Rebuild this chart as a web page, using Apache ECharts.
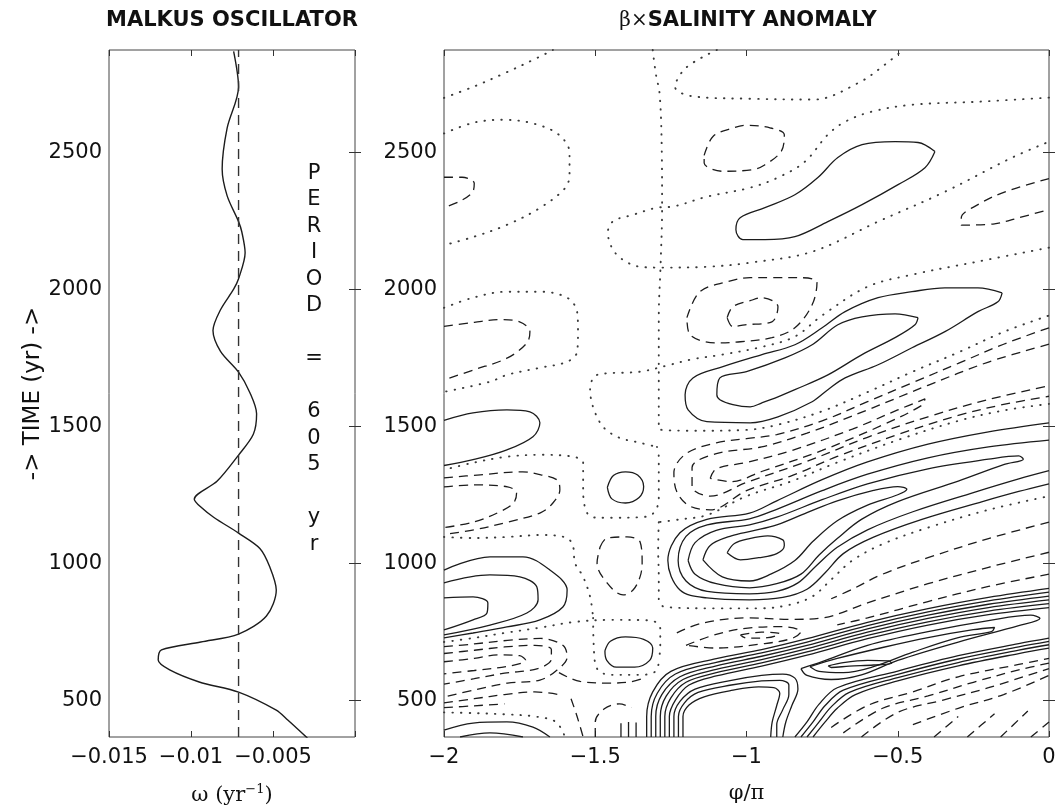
<!DOCTYPE html>
<html>
<head>
<meta charset="utf-8">
<title>Malkus oscillator / salinity anomaly</title>
<script src="https://cdn.jsdelivr.net/npm/echarts@6/dist/echarts.min.js"></script>
<style>
  html, body { margin: 0; background: #fff; }
  #chart { width: 1060px; height: 811px; }
</style>
</head>
<body>
<div id="chart"></div>
<script>
// ---- left panel: omega(t) of the Malkus oscillator ----
const omegaTime = [361,427,463,529,566,610,646,683,712,741,807,902,987,1054,1110,1167,1205,1234,1300,1395,1471,1546,1622,1698,1774,1850,1926,2001,2039,2134,2210,2248,2343,2440,2589,2740,2870];
const omegaValue = [-0.0029,-0.0041,-0.0048,-0.0071,-0.0095,-0.0113,-0.0120,-0.0118,-0.0094,-0.0071,-0.0054,-0.0048,-0.0052,-0.0058,-0.0071,-0.0086,-0.0094,-0.0098,-0.0084,-0.0071,-0.0062,-0.0060,-0.0064,-0.0071,-0.0082,-0.00866,-0.0082,-0.0074,-0.0071,-0.0067,-0.0069,-0.0071,-0.0078,-0.0081,-0.0078,-0.0071,-0.0074];
const omegaMean = -0.0071;
const periodText = ['P','E','R','I','O','D','','=','','6','0','5','','y','r'];

// ticks
const timeRange = [365, 2875];
const timeTicks = [500, 1000, 1500, 2000, 2500];
const omegaTicks = [-0.015, -0.01, -0.005, 0];
const omegaLabels = [-0.015, -0.01, -0.005];
const phiTicks = [-2, -1.5, -1, -0.5, 0];

// ---- right panel: contours of beta x salinity anomaly, points are [phi/pi, year] ----
// positive (solid)
const posUpperBlob = [[-0.377,2504],[-0.433,2537],[-0.509,2540],[-0.618,2529],[-0.698,2482],[-0.764,2409],[-0.84,2346],[-0.939,2299],[-1.021,2262],[-1.035,2218],[-1.012,2182],[-0.939,2182],[-0.84,2193],[-0.731,2248],[-0.618,2310],[-0.499,2383],[-0.41,2445],[-0.377,2504]];
const posMidOuter = [[-0.155,1988],[-0.235,2006],[-0.344,2006],[-0.453,1992],[-0.565,1970],[-0.674,1919],[-0.75,1860],[-0.84,1798],[-0.949,1762],[-1.078,1718],[-1.177,1677],[-1.203,1615],[-1.193,1560],[-1.131,1517],[-0.988,1513],[-0.896,1535],[-0.783,1590],[-0.731,1634],[-0.674,1677],[-0.565,1725],[-0.453,1787],[-0.344,1846],[-0.235,1919],[-0.169,1955],[-0.155,1988]];
const posMidInner = [[-0.433,1897],[-0.509,1911],[-0.618,1900],[-0.698,1871],[-0.783,1798],[-0.873,1750],[-1.0,1700],[-1.088,1677],[-1.098,1615],[-1.088,1597],[-1.045,1579],[-0.988,1571],[-0.949,1586],[-0.896,1608],[-0.84,1634],[-0.731,1688],[-0.618,1762],[-0.509,1824],[-0.443,1871],[-0.433,1897]];
const posLeftTop = [[-2,1522],[-1.904,1549],[-1.792,1560],[-1.716,1553],[-1.683,1513],[-1.706,1462],[-1.792,1414],[-1.904,1378],[-2,1357]];
const posLeftOuter = [[-2,975],[-1.848,1023],[-1.739,1023],[-1.65,975],[-1.593,902],[-1.607,840],[-1.683,793],[-1.792,767],[-1.904,745],[-2,727]];
const posLeftMid = [[-2,928],[-1.848,957],[-1.749,950],[-1.693,913],[-1.689,866],[-1.726,818],[-1.848,774],[-2,738]];
const posLeftInner = [[-2,873],[-1.904,877],[-1.855,855],[-1.858,818],[-1.904,793],[-2,756]];
const posRingUpper = [[-1.46,1277],[-1.44,1320],[-1.40,1334],[-1.36,1322],[-1.34,1280],[-1.355,1240],[-1.40,1220],[-1.445,1235],[-1.46,1277]];
const posRingLower = [[-1.468,680],[-1.45,715],[-1.40,731],[-1.34,722],[-1.31,690],[-1.32,645],[-1.37,620],[-1.43,620],[-1.462,645],[-1.468,680]];
const posCorner = [[-2,390],[-1.904,416],[-1.792,420],[-1.706,401],[-1.65,365]];
const posCornerIn = [[-1.947,365],[-1.848,380],[-1.739,365]];
const posStub1 = [[-1.415,365],[-1.415,415]];
const posStub2 = [[-1.39,365],[-1.39,420]];
const posStub3 = [[-1.365,365],[-1.365,418]];
const posCore1 = [[-1.064,1038],[-1.04,1072],[-0.99,1090],[-0.93,1100],[-0.88,1085],[-0.875,1065],[-0.9,1035],[-0.96,1020],[-1.02,1012],[-1.064,1038]];
const posCore2 = [[-1.144,1012],[-1.12,1065],[-1.05,1100],[-0.98,1118],[-0.9,1140],[-0.8,1185],[-0.7,1228],[-0.58,1266],[-0.5,1280],[-0.47,1270],[-0.5,1250],[-0.6,1212],[-0.7,1155],[-0.78,1080],[-0.84,1010],[-0.92,960],[-0.99,935],[-1.08,950],[-1.144,1012]];
const posCore3 = [[-1.193,1010],[-1.17,1075],[-1.1,1120],[-0.99,1140],[-0.9,1168],[-0.75,1232],[-0.6,1290],[-0.4,1345],[-0.2,1380],[-0.1,1392],[-0.085,1380],[-0.15,1360],[-0.3,1300],[-0.5,1225],[-0.62,1160],[-0.7,1090],[-0.76,1030],[-0.82,960],[-0.9,925],[-0.99,910],[-1.1,925],[-1.17,960],[-1.193,1010]];
const posCore4 = [[0,1450],[-0.2,1425],[-0.4,1385],[-0.6,1325],[-0.75,1265],[-0.9,1197],[-0.99,1162],[-1.13,1140],[-1.2,1098],[-1.226,1010],[-1.2,935],[-1.13,897],[-0.99,888],[-0.9,897],[-0.83,928],[-0.77,990],[-0.7,1058],[-0.6,1122],[-0.45,1188],[-0.25,1258],[-0.1,1308],[0,1338]];
const posCore5 = [[0,1513],[-0.2,1480],[-0.4,1435],[-0.6,1370],[-0.75,1305],[-0.9,1228],[-0.99,1183],[-1.131,1160],[-1.22,1111],[-1.26,1010],[-1.22,902],[-1.131,873],[-0.99,866],[-0.88,875],[-0.8,905],[-0.74,965],[-0.68,1035],[-0.58,1095],[-0.42,1160],[-0.22,1225],[-0.1,1262],[0,1290]];
const posBandAm = [[-1.33,365],[-1.33,440],[-1.31,530],[-1.25,605],[-1.1,651],[-0.95,684],[-0.8,724],[-0.6,784],[-0.4,834],[-0.2,875],[0,908]];
const posBandA0 = [[-1.315,365],[-1.315,440],[-1.295,525],[-1.235,595],[-1.1,638],[-0.95,672],[-0.8,712],[-0.6,772],[-0.4,822],[-0.2,862],[0,894]];
const posBandA1 = [[-1.30,365],[-1.30,440],[-1.28,520],[-1.22,585],[-1.1,625],[-0.95,660],[-0.8,700],[-0.6,760],[-0.4,810],[-0.2,850],[0,880]];
const posBandA2 = [[-1.285,365],[-1.285,440],[-1.265,515],[-1.21,575],[-1.1,612],[-0.95,648],[-0.8,688],[-0.6,748],[-0.4,798],[-0.2,838],[0,866]];
const posBandA3 = [[-1.27,365],[-1.27,440],[-1.25,508],[-1.2,565],[-1.1,600],[-0.95,636],[-0.8,676],[-0.6,736],[-0.4,786],[-0.2,825],[0,852]];
const posBandA4 = [[-1.255,365],[-1.255,440],[-1.235,500],[-1.19,555],[-1.1,588],[-0.95,624],[-0.8,664],[-0.6,724],[-0.4,774],[-0.2,812],[0,838]];
const posArch5 = [[-1.24,365],[-1.24,440],[-1.22,495],[-1.17,540],[-1.05,572],[-0.95,590],[-0.88,595],[-0.84,580],[-0.83,540],[-0.85,480],[-0.87,420],[-0.88,365]];
const posArch6 = [[-1.225,365],[-1.225,440],[-1.205,490],[-1.16,528],[-1.05,555],[-0.95,570],[-0.89,572],[-0.86,555],[-0.86,520],[-0.88,465],[-0.9,410],[-0.9,365]];
const posArch7 = [[-1.21,365],[-1.21,440],[-1.19,482],[-1.14,512],[-1.05,535],[-0.96,548],[-0.91,545],[-0.89,525],[-0.9,480],[-0.915,420],[-0.92,365]];
const posBandB1 = [[-0.78,365],[-0.74,420],[-0.7,470],[-0.64,520],[-0.5,570],[-0.3,625],[-0.1,670],[0,690]];
const posBandB2 = [[-0.80,365],[-0.76,420],[-0.72,475],[-0.66,528],[-0.5,582],[-0.3,637],[-0.1,682],[0,702]];
const posBandB3 = [[-0.82,365],[-0.78,420],[-0.74,480],[-0.68,536],[-0.5,594],[-0.3,650],[-0.1,694],[0,714]];
const posBandB4 = [[-0.84,365],[-0.80,420],[-0.76,485],[-0.70,545],[-0.5,606],[-0.3,662],[-0.1,706],[0,726]];
const posLobeC = [[-0.82,615],[-0.75,640],[-0.6,700],[-0.4,750],[-0.2,790],[-0.06,810],[-0.03,798],[-0.1,772],[-0.3,712],[-0.5,645],[-0.62,592],[-0.72,575],[-0.8,590],[-0.82,615]];
const posLobeB = [[-0.79,622],[-0.7,652],[-0.55,692],[-0.4,728],[-0.25,757],[-0.18,765],[-0.19,750],[-0.3,728],[-0.45,675],[-0.58,622],[-0.68,600],[-0.76,605],[-0.79,622]];
const posLobeA = [[-0.73,625],[-0.68,637],[-0.6,645],[-0.53,643],[-0.52,634],[-0.58,628],[-0.66,624],[-0.72,619],[-0.73,625]];

// negative (dashed)
const negTopOval = [[-1.14,2490],[-1.11,2560],[-1.045,2590],[-1.0,2600],[-0.92,2590],[-0.875,2565],[-0.885,2505],[-0.94,2455],[-0.98,2438],[-1.08,2432],[-1.14,2462],[-1.14,2490]];
const negMidOuter = [[-1.197,1897],[-1.154,1992],[-1.064,2028],[-0.988,2043],[-0.916,2043],[-0.817,2043],[-0.767,2025],[-0.783,1944],[-0.84,1860],[-0.916,1824],[-1.02,1809],[-1.1,1805],[-1.187,1835],[-1.197,1897]];
const negMidInner = [[-1.064,1897],[-1.045,1937],[-0.988,1959],[-0.949,1970],[-0.896,1937],[-0.916,1882],[-1.005,1871],[-1.045,1864],[-1.064,1897]];
const negLeftHook = [[-2,2410],[-1.94,2410],[-1.9,2388],[-1.905,2357],[-1.95,2321],[-2,2300]];
const negLeftLoop = [[-2,1865],[-1.9,1880],[-1.815,1890],[-1.75,1882],[-1.716,1846],[-1.726,1805],[-1.79,1750],[-1.9,1707],[-2,1670]];
const negRightHook = [[0,2405],[-0.145,2357],[-0.235,2310],[-0.29,2262],[-0.29,2235],[-0.18,2240],[-0.1,2262],[0,2292]];
const negStreakOuter = [[0,1860],[-0.15,1800],[-0.3,1730],[-0.45,1660],[-0.6,1590],[-0.75,1520],[-0.9,1470],[-1.0,1455],[-1.1,1440],[-1.2,1400],[-1.24,1330],[-1.23,1260],[-1.19,1210],[-1.12,1195],[-1.0,1265],[-0.85,1320],[-0.7,1390],[-0.5,1470],[-0.3,1540],[-0.15,1580],[0,1610]];
const negStreakMid = [[0,1800],[-0.2,1735],[-0.4,1650],[-0.6,1560],[-0.8,1475],[-0.95,1425],[-1.1,1400],[-1.18,1350],[-1.18,1280],[-1.12,1245],[-1.0,1295],[-0.8,1372],[-0.6,1460],[-0.4,1535],[-0.2,1598],[0,1648]];
const negStreakInner = [[-1.12,1310],[-1.1,1345],[-1.0,1368],[-0.85,1412],[-0.65,1490],[-0.5,1560],[-0.41,1600],[-0.42,1577],[-0.55,1505],[-0.75,1412],[-0.95,1335],[-1.05,1298],[-1.12,1310]];
const negOval = [[-1.484,1059],[-1.461,1092],[-1.395,1096],[-1.352,1078],[-1.345,1001],[-1.352,950],[-1.375,902],[-1.408,884],[-1.461,928],[-1.494,1001],[-1.484,1059]];
const negLeftOuter = [[-2,1312],[-1.88,1323],[-1.74,1334],[-1.68,1323],[-1.626,1304],[-1.617,1268],[-1.64,1220],[-1.68,1185],[-1.79,1150],[-1.9,1122],[-2,1105]];
const negLeftInner = [[-2,1279],[-1.9,1286],[-1.79,1279],[-1.76,1257],[-1.77,1220],[-1.815,1188],[-1.9,1151],[-2,1130]];
const negLowOuter = [[-2,695],[-1.9,705],[-1.79,718],[-1.68,725],[-1.607,700],[-1.593,657],[-1.626,610],[-1.683,573],[-1.79,562],[-1.9,537],[-2,511]];
const negLowMid = [[-2,670],[-1.9,682],[-1.8,694],[-1.7,700],[-1.645,685],[-1.645,650],[-1.69,615],[-1.8,598],[-1.9,578],[-2,558]];
const negLowInner = [[-2,640],[-1.9,652],[-1.82,665],[-1.75,662],[-1.73,645],[-1.78,625],[-1.9,608],[-2,596]];
const negLowArc = [[-1.62,600],[-1.55,568],[-1.45,562],[-1.38,567],[-1.34,580]];
const negBottomA = [[-2,490],[-1.9,505],[-1.8,520],[-1.7,530],[-1.62,520]];
const negBottomB = [[-2,472],[-1.9,479],[-1.8,486]];
const negSlantL = [[-1.58,505],[-1.56,440],[-1.54,365]];
const negBottomArc = [[-1.5,365],[-1.5,420],[-1.47,468],[-1.42,486],[-1.38,472]];
const negBeltA = [[0,1040],[-0.2,985],[-0.4,925],[-0.6,855],[-0.75,800],[-0.85,795],[-1.0,800],[-1.15,780],[-1.24,740]];
const negBeltB = [[0,960],[-0.2,915],[-0.4,860],[-0.6,800],[-0.7,775]];
const negBeltC = [[0,1150],[-0.2,1090],[-0.4,1020],[-0.55,960],[-0.65,905],[-0.72,870]];
const negPocket = [[-1.2,700],[-1.1,740],[-0.98,765],[-0.88,768],[-0.82,750],[-0.85,725],[-0.95,705],[-1.1,690],[-1.2,700]];
const negPocketIn = [[-1.02,738],[-0.95,748],[-0.89,742],[-0.93,728],[-1.0,726],[-1.02,738]];
const negStack1 = [[-0.72,400],[-0.6,480],[-0.45,530],[-0.3,585],[-0.1,630],[0,652]];
const negStack2 = [[-0.68,380],[-0.55,470],[-0.4,515],[-0.25,565],[-0.1,610],[0,635]];
const negStack3 = [[-0.62,365],[-0.5,455],[-0.35,500],[-0.2,545],[0,615]];
const negStack4 = [[-0.45,410],[-0.3,470],[-0.15,520],[0,590]];
const negSlash1 = [[-0.38,365],[-0.3,440]];
const negSlash2 = [[-0.27,365],[-0.18,450]];
const negSlash3 = [[-0.16,365],[-0.07,460]];
const negSlash4 = [[-0.06,365],[0,420]];

// zero (dotted)
const zeroTopLeft = [[-2,2700],[-1.9,2742],[-1.8,2790],[-1.69,2847],[-1.64,2875]];
const zeroLeftLoop = [[-2,2570],[-1.9,2610],[-1.8,2620],[-1.7,2605],[-1.62,2565],[-1.585,2500],[-1.585,2420],[-1.6,2370],[-1.68,2300],[-1.79,2237],[-1.9,2193],[-2,2162]];
const zeroSpine = [[-1.31,2875],[-1.30,2790],[-1.287,2712],[-1.28,2500],[-1.279,2300],[-1.284,2090],[-1.29,1900],[-1.29,1700],[-1.29,1490],[-1.15,1484],[-1.0,1487],[-0.9,1505],[-0.75,1555],[-0.6,1625],[-0.45,1700],[-0.3,1770],[-0.15,1845],[0,1905]];
const zeroTopU = [[-1.098,2875],[-1.2,2810],[-1.236,2740],[-1.174,2705],[-0.988,2697],[-0.777,2694],[-0.628,2756],[-0.542,2822],[-0.483,2875]];
const zeroUpperRing = [[0,2701],[-0.235,2686],[-0.453,2675],[-0.585,2650],[-0.674,2613],[-0.731,2566],[-0.807,2467],[-0.896,2409],[-0.988,2372],[-1.131,2339],[-1.243,2303],[-1.296,2299],[-1.375,2273],[-1.44,2250],[-1.458,2211],[-1.45,2164],[-1.418,2116],[-1.352,2083],[-1.286,2080],[-1.131,2083],[-0.988,2098],[-0.783,2138],[-0.565,2248],[-0.344,2357],[-0.122,2482],[0,2540]];
const zeroMidBelt = [[0,2153],[-0.235,2102],[-0.453,2054],[-0.6,2010],[-0.75,1905],[-0.84,1828],[-0.95,1790],[-1.08,1762],[-1.18,1745],[-1.263,1722],[-1.35,1700],[-1.494,1688],[-1.517,1634],[-1.484,1513],[-1.428,1462],[-1.352,1440],[-1.296,1425]];
const zeroBox = [[-1.296,1425],[-1.29,1389],[-1.29,1300],[-1.29,1231],[-1.31,1180],[-1.34,1169],[-1.45,1166],[-1.494,1166],[-1.527,1184],[-1.54,1268],[-1.54,1367],[-1.573,1389],[-1.683,1396],[-1.792,1389],[-1.904,1367],[-2,1341]];
const zeroLeftRing = [[-2,1933],[-1.904,1970],[-1.792,1992],[-1.683,1992],[-1.593,1970],[-1.56,1919],[-1.557,1846],[-1.56,1772],[-1.593,1736],[-1.683,1714],[-1.792,1688],[-1.848,1663],[-2,1626]];
const zeroLowBelt = [[-2,712],[-1.9,727],[-1.8,745],[-1.68,765],[-1.57,785],[-1.45,793],[-1.35,792],[-1.3,785],[-1.285,760],[-1.285,700],[-1.29,640]];
const zeroLeftColumn = [[-2,1096],[-1.9,1092],[-1.79,1096],[-1.68,1103],[-1.593,1092],[-1.573,1059],[-1.567,1001],[-1.54,950],[-1.517,877],[-1.507,800]];
const zeroRingLow = [[-1.507,800],[-1.505,700],[-1.494,615],[-1.45,592],[-1.35,592],[-1.3,605],[-1.29,640]];
const zeroBelowCore = [[-1.29,1150],[-1.292,1050],[-1.29,950],[-1.29,870],[-1.27,840],[-1.1,835],[-0.95,835],[-0.85,850],[-0.78,880],[-0.72,940],[-0.65,1010],[-0.55,1070],[-0.4,1130],[-0.2,1195],[0,1245]];
const zeroAboveCore = [[0,1582],[-0.15,1558],[-0.3,1520],[-0.5,1450],[-0.7,1368],[-0.85,1300],[-1.0,1245],[-1.13,1176],[-1.22,1160],[-1.29,1150]];
const zeroBottomLeft = [[-2,455],[-1.9,452],[-1.8,448],[-1.7,440],[-1.63,420],[-1.6,365]];

const solidLines = [posUpperBlob, posMidOuter, posMidInner, posLeftTop, posLeftOuter, posLeftMid, posLeftInner,
  posRingUpper, posRingLower, posCorner, posCornerIn, posStub1, posStub2, posStub3,
  posCore1, posCore2, posCore3, posCore4, posCore5,
  posBandAm, posBandA0, posBandA1, posBandA2, posBandA3, posBandA4, posArch5, posArch6, posArch7,
  posBandB1, posBandB2, posBandB3, posBandB4, posLobeC, posLobeB, posLobeA];
const dashedLines = [negTopOval, negMidOuter, negMidInner, negLeftHook, negLeftLoop, negRightHook,
  negStreakOuter, negStreakMid, negStreakInner, negOval, negLeftOuter, negLeftInner,
  negLowOuter, negLowMid, negLowInner, negLowArc, negBottomA, negBottomB, negSlantL, negBottomArc,
  negBeltA, negBeltB, negBeltC, negPocket, negPocketIn,
  negStack1, negStack2, negStack3, negStack4, negSlash1, negSlash2, negSlash3, negSlash4];
const dottedLines = [zeroTopLeft, zeroLeftLoop, zeroSpine, zeroTopU, zeroUpperRing, zeroMidBelt, zeroBox,
  zeroLeftRing, zeroLowBelt, zeroLeftColumn, zeroRingLow, zeroBelowCore, zeroAboveCore, zeroBottomLeft];

// ---- chart ----
const chart = echarts.init(document.getElementById('chart'));

const tickFont = { fontFamily: 'DejaVu Sans', fontSize: 21, color: '#111' };
const minus = v => String(v).replace('-', '\u2212');
const plain = v => String(v);

const solidStyle = { color: '#1c1c1c', width: 1.3, type: 'solid' };
const dashStyle = { color: '#1c1c1c', width: 1.3, type: [9, 6] };
const dotStyle = { color: '#3a3a3a', width: 1.9, type: [0.5, 8], cap: 'round' };

function contour(points, style) {
  return {
    type: 'line', xAxisIndex: 2, yAxisIndex: 2,
    data: points, smooth: 0.35, showSymbol: false, symbol: 'none',
    silent: true, lineStyle: style
  };
}

function boxAxis(grid, pos, extra) {
  return Object.assign({
    gridIndex: grid, type: 'value', position: pos,
    axisLine: { show: false },
    splitLine: { show: false },
    axisLabel: { show: false },
    axisTick: { inside: true, length: 6, lineStyle: { color: '#333', width: 1 } }
  }, extra);
}

const tick = vals => ({ inside: true, length: 6, customValues: vals, lineStyle: { color: '#333' } });

const omegaData = omegaTime.map((t, i) => [omegaValue[i], t]);

const option = {
  animation: false,
  backgroundColor: '#fff',
  grid: [
    { left: 109, top: 50, width: 246, height: 687, show: true, borderColor: '#444', borderWidth: 1, backgroundColor: 'transparent' },
    { left: 444, top: 50, width: 605, height: 687, show: true, borderColor: '#444', borderWidth: 1, backgroundColor: 'transparent' }
  ],
  xAxis: [
    boxAxis(0, 'bottom', {
      min: -0.015, max: 0, axisTick: tick(omegaTicks),
      axisLabel: Object.assign({ show: true, margin: 10, customValues: omegaLabels, formatter: minus }, tickFont),
      name: '{n|\u03c9 (yr}{s|\u22121}{n|)}', nameLocation: 'middle', nameGap: 46,
      nameTextStyle: { rich: {
        n: { fontFamily: 'DejaVu Serif', fontSize: 21, color: '#111' },
        s: { fontFamily: 'DejaVu Serif', fontSize: 13, color: '#111', padding: [0, 0, 12, 0] }
      } }
    }),
    boxAxis(0, 'top', { min: -0.015, max: 0, axisTick: tick(omegaTicks) }),
    boxAxis(1, 'bottom', {
      min: -2, max: 0, axisTick: tick(phiTicks),
      axisLabel: Object.assign({ show: true, margin: 10, customValues: phiTicks, formatter: minus }, tickFont),
      name: '\u03c6/\u03c0', nameLocation: 'middle', nameGap: 46,
      nameTextStyle: { fontFamily: 'DejaVu Serif', fontSize: 21, color: '#111' }
    }),
    boxAxis(1, 'top', { min: -2, max: 0, axisTick: tick(phiTicks) })
  ],
  yAxis: [
    boxAxis(0, 'left', {
      min: timeRange[0], max: timeRange[1], axisTick: tick(timeTicks),
      axisLabel: Object.assign({ show: true, margin: 7, customValues: timeTicks, formatter: plain }, tickFont),
      name: '-> TIME (yr) ->', nameLocation: 'middle', nameGap: 64,
      nameTextStyle: { fontFamily: 'DejaVu Sans', fontSize: 23, color: '#111' }
    }),
    boxAxis(0, 'right', { min: timeRange[0], max: timeRange[1], axisTick: tick(timeTicks) }),
    boxAxis(1, 'left', {
      min: timeRange[0], max: timeRange[1], axisTick: tick(timeTicks),
      axisLabel: Object.assign({ show: true, margin: 7, customValues: timeTicks, formatter: plain }, tickFont)
    }),
    boxAxis(1, 'right', { min: timeRange[0], max: timeRange[1], axisTick: tick(timeTicks) })
  ],
  graphic: [
    { type: 'text', x: 232, y: 21, style: { text: 'MALKUS OSCILLATOR', fontFamily: 'DejaVu Sans', fontWeight: 'bold', fontSize: 21, fill: '#111', align: 'center', verticalAlign: 'middle' } },
    { type: 'text', x: 748, y: 21, style: {
        text: '{g|\u03b2\u00d7}{b|SALINITY ANOMALY}', align: 'center', verticalAlign: 'middle',
        rich: {
          g: { fontFamily: 'DejaVu Serif', fontSize: 20, fill: '#111' },
          b: { fontFamily: 'DejaVu Sans', fontWeight: 'bold', fontSize: 21, fill: '#111' }
        } } },
    { type: 'text', x: 314, y: 160, style: { text: periodText.join('\n'), fontFamily: 'DejaVu Sans', fontSize: 21, lineHeight: 26.5, fill: '#111', align: 'center', verticalAlign: 'top' } }
  ],
  series: [
    {
      type: 'line', xAxisIndex: 0, yAxisIndex: 0, data: omegaData,
      smooth: 0.3, showSymbol: false, symbol: 'none', silent: true,
      lineStyle: { color: '#1c1c1c', width: 1.4 }
    },
    {
      type: 'line', xAxisIndex: 0, yAxisIndex: 0,
      data: [[omegaMean, timeRange[0]], [omegaMean, timeRange[1]]],
      showSymbol: false, symbol: 'none', silent: true,
      lineStyle: { color: '#333', width: 1.4, type: [10, 7] }
    }
  ]
    .concat(solidLines.map(p => contour(p, solidStyle)))
    .concat(dashedLines.map(p => contour(p, dashStyle)))
    .concat(dottedLines.map(p => contour(p, dotStyle)))
};

chart.setOption(option);
</script>
</body>
</html>
